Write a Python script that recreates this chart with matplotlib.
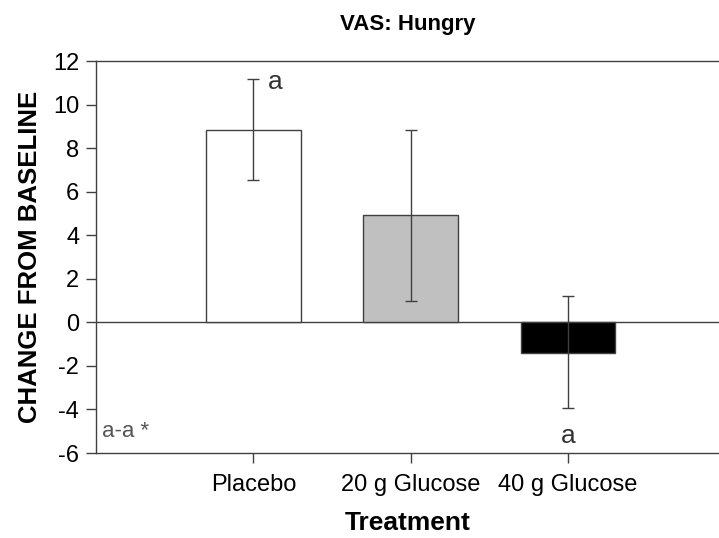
import matplotlib.pyplot as plt

plt.rcParams['font.family'] = ['Liberation Sans', 'DejaVu Sans']
plt.rcParams['axes.unicode_minus'] = False

treatments = ["Placebo", "20 g Glucose", "40 g Glucose"]
change = [8.85, 4.92, -1.39]
err_up = [2.33, 3.92, 2.62]
err_down = [2.33, 3.92, 2.55]
bar_colors = ["white", "#c0c0c0", "black"]
yticks = [-6, -4, -2, 0, 2, 4, 6, 8, 10, 12]

fig = plt.figure(figsize=(7.19, 5.38), dpi=100)
ax = fig.add_axes([96 / 719, 1 - 453 / 538, 1 - 96 / 719, (453 - 61) / 538])

x = list(range(len(treatments)))
ax.bar(x, change, width=0.6, color=bar_colors, edgecolor="#404040", linewidth=1.0, zorder=2)
ax.errorbar(x, change, yerr=[err_down, err_up], fmt="none", ecolor="#404040",
            elinewidth=1.0, capsize=4.5, capthick=1.0, zorder=3)
ax.axhline(0, color="#404040", linewidth=1.0, zorder=1)

ax.set_xlim(-1, 2.96)
ax.set_ylim(-6, 12)
ax.set_yticks(yticks)
ax.set_xticks(x)
ax.set_xticklabels(treatments)
ax.tick_params(axis="both", labelsize=17, color="#404040", length=7, width=1.0, pad=5)
ax.tick_params(axis="x", pad=8)

for side in ["left", "bottom", "top"]:
    ax.spines[side].set_color("#404040")
    ax.spines[side].set_linewidth(1.0)
ax.spines["right"].set_visible(False)

ax.set_title("VAS: Hungry", fontsize=16, fontweight="bold", pad=22)
ax.set_xlabel("Treatment", fontsize=19, fontweight="bold", labelpad=11)
ax.set_ylabel("CHANGE FROM BASELINE", fontsize=18.5, fontweight="bold", labelpad=8)

# letras de significancia
ax.text(0.09, change[0] + err_up[0] - 0.15, "a", fontsize=19, color="#333333", ha="left", va="center")
ax.text(2, -5.2, "a", fontsize=19, color="#333333", ha="center", va="center")
ax.text(-0.96, -5.0, "a-a *", fontsize=16, color="#555555", ha="left", va="center")

fig.savefig("out.png", dpi=100)
